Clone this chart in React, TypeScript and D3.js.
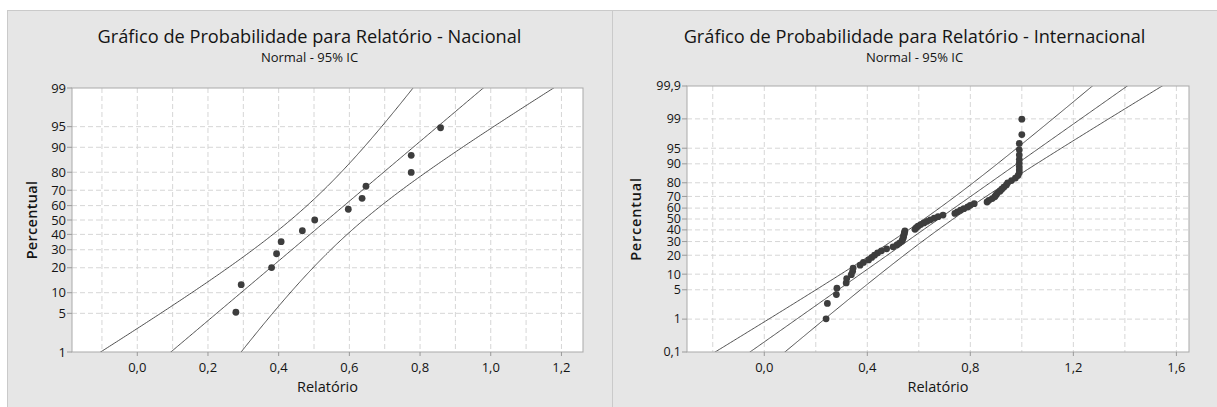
import React from "react";
import * as d3 from "d3";

// ---------- data ----------
const natValues = [0.279, 0.294, 0.38, 0.394, 0.407, 0.467, 0.502, 0.597, 0.636, 0.647, 0.775, 0.775, 0.858];
const natPercent = [5.2, 12.7, 20.1, 27.6, 35.1, 42.5, 50, 57.5, 64.9, 72.4, 79.9, 87.3, 94.8];
const natFit = { mean: 0.537, sigma: 0.19, n: 13 };
const natXTicks = [0, 0.2, 0.4, 0.6, 0.8, 1.0, 1.2];
const natXGrid = [-0.1, 0, 0.1, 0.2, 0.3, 0.4, 0.5, 0.6, 0.7, 0.8, 0.9, 1.0, 1.1, 1.2];
const natYTicks = [1, 5, 10, 20, 30, 40, 50, 60, 70, 80, 90, 95, 99];

const intValues = [
  0.24, 0.245, 0.28, 0.282, 0.318, 0.32, 0.338, 0.343, 0.345, 0.372,
  0.385, 0.405, 0.417, 0.428, 0.44, 0.455, 0.475, 0.5, 0.515, 0.525,
  0.534, 0.537, 0.54, 0.541, 0.543, 0.544, 0.546, 0.585, 0.59, 0.597,
  0.607, 0.62, 0.632, 0.645, 0.66, 0.675, 0.694, 0.74, 0.75, 0.762,
  0.775, 0.79, 0.8, 0.815, 0.865, 0.872, 0.885, 0.895, 0.9, 0.905,
  0.915, 0.922, 0.93, 0.94, 0.945, 0.96, 0.975, 0.985, 0.99, 0.99,
  0.99, 0.99, 0.99, 0.99, 0.99, 0.99, 1.0, 1.0,
];
const intPercent = [
  1.02, 2.49, 3.95, 5.41, 6.87, 8.33, 9.8, 11.26, 12.72, 14.18,
  15.64, 17.11, 18.57, 20.03, 21.49, 22.95, 24.42, 25.88, 27.34, 28.8,
  30.26, 31.73, 33.19, 34.65, 36.11, 37.57, 39.04, 40.5, 41.96, 43.42,
  44.88, 46.35, 47.81, 49.27, 50.73, 52.19, 53.65, 55.12, 56.58, 58.04,
  59.5, 60.96, 62.43, 63.89, 65.35, 66.81, 68.27, 69.74, 71.2, 72.66,
  74.12, 75.58, 77.05, 78.51, 79.97, 81.43, 82.89, 84.36, 85.82, 87.28,
  88.74, 90.2, 91.67, 93.13, 94.59, 96.05, 97.51, 98.98,
];
const intFit = { mean: 0.677, sigma: 0.237, n: 68 };
const intXTicks = [0, 0.4, 0.8, 1.2, 1.6];
const intXGrid = [-0.2, 0, 0.2, 0.4, 0.6, 0.8, 1.0, 1.2, 1.4, 1.6];
const intYTicks = [0.1, 1, 5, 10, 20, 30, 40, 50, 60, 70, 80, 90, 95, 99, 99.9];

// ---------- helpers ----------
function probit(p: number): number {
  const a = [-3.969683028665376e1, 2.209460984245205e2, -2.759285104469687e2, 1.38357751867269e2, -3.066479806614716e1, 2.506628277459239];
  const b = [-5.447609879822406e1, 1.615858368580409e2, -1.556989798598866e2, 6.680131188771972e1, -1.328068155288572e1];
  const c = [-7.784894002430293e-3, -3.223964580411365e-1, -2.400758277161838, -2.549732539343734, 4.374664141464968, 2.938163982698783];
  const d = [7.784695709041462e-3, 3.224671290700398e-1, 2.445134137142996, 3.754408661907416];
  const pl = 0.02425;
  if (p < pl) {
    const q = Math.sqrt(-2 * Math.log(p));
    return (((((c[0] * q + c[1]) * q + c[2]) * q + c[3]) * q + c[4]) * q + c[5]) / ((((d[0] * q + d[1]) * q + d[2]) * q + d[3]) * q + 1);
  }
  if (p > 1 - pl) {
    const q = Math.sqrt(-2 * Math.log(1 - p));
    return -(((((c[0] * q + c[1]) * q + c[2]) * q + c[3]) * q + c[4]) * q + c[5]) / ((((d[0] * q + d[1]) * q + d[2]) * q + d[3]) * q + 1);
  }
  const q = p - 0.5;
  const r = q * q;
  return ((((((a[0] * r + a[1]) * r + a[2]) * r + a[3]) * r + a[4]) * r + a[5]) * q) / (((((b[0] * r + b[1]) * r + b[2]) * r + b[3]) * r + b[4]) * r + 1);
}

const fmtX = (v: number) => d3.format(".1f")(v).replace(".", ",").replace("-", "−");
const fmtY = (v: number) => String(v).replace(".", ",");

const FONT = "'Open Sans', 'Noto Sans', sans-serif";
const TEXT = "#141414";

type PanelProps = {
  id: string;
  panelX: number;
  panelW: number;
  title: string;
  plot: { x0: number; x1: number; y0: number; y1: number };
  xDomain: [number, number];
  xTicks: number[];
  xGrid: number[];
  yTicks: number[];
  yRange: [number, number];
  values: number[];
  percents: number[];
  fit: { mean: number; sigma: number; n: number };
  ylabX: number;
  ylabSpacing: number;
  tickSize: number;
};

function Panel(props: PanelProps) {
  const { id, panelX, panelW, title, plot, xDomain, xTicks, xGrid, yTicks, yRange, values, percents, fit, ylabX, ylabSpacing, tickSize } = props;
  const x = d3.scaleLinear().domain(xDomain).range([plot.x0, plot.x1]);
  const zBot = probit(yRange[0] / 100);
  const zTop = probit(yRange[1] / 100);
  const yz = d3.scaleLinear().domain([zBot, zTop]).range([plot.y1, plot.y0]);
  const y = (p: number) => yz(probit(p / 100));

  const zs = d3.range(zBot - 0.2, zTop + 0.2, 0.02);
  const se = (z: number) => fit.sigma * Math.sqrt((1 + (z * z) / 2) / fit.n);
  const line = d3
    .line<number>()
    .x((z) => x(fit.mean + z * fit.sigma))
    .y((z) => yz(z));
  const lower = d3
    .line<number>()
    .x((z) => x(fit.mean + z * fit.sigma - 1.96 * se(z)))
    .y((z) => yz(z));
  const upper = d3
    .line<number>()
    .x((z) => x(fit.mean + z * fit.sigma + 1.96 * se(z)))
    .y((z) => yz(z));

  const cx = panelX + panelW / 2;
  const plotCx = (plot.x0 + plot.x1) / 2;
  const plotCy = (plot.y0 + plot.y1) / 2;

  return (
    <g>
      <defs>
        <clipPath id={id}>
          <rect x={plot.x0} y={plot.y0} width={plot.x1 - plot.x0} height={plot.y1 - plot.y0} />
        </clipPath>
      </defs>
      <text x={cx} y={43} textAnchor="middle" fontFamily={FONT} fontSize={18.2} fill={TEXT}>
        {title}
      </text>
      <text x={cx} y={62} textAnchor="middle" fontFamily={FONT} fontSize={13} fill={TEXT}>
        Normal - 95% IC
      </text>
      <rect x={plot.x0} y={plot.y0} width={plot.x1 - plot.x0} height={plot.y1 - plot.y0} fill="#ffffff" />
      {xGrid.map((g) => (
        <line key={"gx" + g} x1={x(g)} x2={x(g)} y1={plot.y0} y2={plot.y1} stroke="#d6d6d6" strokeDasharray="5,3" strokeWidth={1} />
      ))}
      {yTicks
        .filter((t) => t !== yRange[0] && t !== yRange[1])
        .map((t) => (
          <line key={"gy" + t} x1={plot.x0} x2={plot.x1} y1={y(t)} y2={y(t)} stroke="#d6d6d6" strokeDasharray="5,3" strokeWidth={1} />
        ))}
      <g clipPath={`url(#${id})`} fill="none" stroke="#3c3c3c" strokeWidth={0.9}>
        <path d={line(zs) || ""} />
        <path d={lower(zs) || ""} />
        <path d={upper(zs) || ""} />
      </g>
      {values.map((v, i) => (
        <circle key={"p" + i} cx={x(v)} cy={y(percents[i])} r={3.4} fill="#3d3d3d" />
      ))}
      <rect x={plot.x0} y={plot.y0} width={plot.x1 - plot.x0} height={plot.y1 - plot.y0} fill="none" stroke="#a9a9a9" strokeWidth={1} />
      {yTicks.map((t) => (
        <g key={"yt" + t}>
          <line x1={plot.x0 - 5} x2={plot.x0} y1={y(t)} y2={y(t)} stroke="#9a9a9a" />
          <text x={plot.x0 - 6} y={y(t)} dy="0.35em" textAnchor="end" fontFamily={FONT} fontSize={tickSize} fill={TEXT}>
            {fmtY(t)}
          </text>
        </g>
      ))}
      {xTicks.map((t) => (
        <g key={"xt" + t}>
          <line x1={x(t)} x2={x(t)} y1={plot.y1} y2={plot.y1 + 4} stroke="#9a9a9a" />
          <text x={x(t)} y={plot.y1 + 20} textAnchor="middle" fontFamily={FONT} fontSize={13} fill={TEXT}>
            {fmtX(t)}
          </text>
        </g>
      ))}
      <text x={plotCx} y={plot.y1 + 40} textAnchor="middle" fontFamily={FONT} fontSize={14.5} fill={TEXT}>
        Relatório
      </text>
      <text
        transform={`translate(${ylabX},${plotCy}) rotate(-90)`}
        textAnchor="middle"
        fontFamily={FONT}
        fontSize={14.5}
        fontWeight={600}
        letterSpacing={ylabSpacing}
        fill={TEXT}
      >
        Percentual
      </text>
    </g>
  );
}

export default function App() {
  return (
    <svg width={1217} height={407} style={{ position: "absolute", left: 0, top: 0, background: "#ffffff" }}>
      <rect x={7.5} y={10.5} width={1217} height={400} fill="#e6e6e6" stroke="#cacaca" />
      <line x1={612.5} x2={612.5} y1={10.5} y2={407} stroke="#cacaca" />
      <Panel
        id="clipNat"
        panelX={7}
        panelW={605}
        title="Gráfico de Probabilidade para Relatório - Nacional"
        plot={{ x0: 72, x1: 583, y0: 88, y1: 352 }}
        xDomain={[-0.1847, 1.261]}
        xTicks={natXTicks}
        xGrid={natXGrid}
        yTicks={natYTicks}
        yRange={[1, 99]}
        values={natValues}
        percents={natPercent}
        fit={natFit}
        ylabX={37}
        ylabSpacing={0.3}
        tickSize={13}
      />
      <Panel
        id="clipInt"
        panelX={612}
        panelW={605}
        title="Gráfico de Probabilidade para Relatório - Internacional"
        plot={{ x0: 687, x1: 1189, y0: 86, y1: 352 }}
        xDomain={[-0.3, 1.649]}
        xTicks={intXTicks}
        xGrid={intXGrid}
        yTicks={intYTicks}
        yRange={[0.1, 99.9]}
        values={intValues}
        percents={intPercent}
        fit={intFit}
        ylabX={641}
        ylabSpacing={0.8}
        tickSize={12.5}
      />
    </svg>
  );
}
